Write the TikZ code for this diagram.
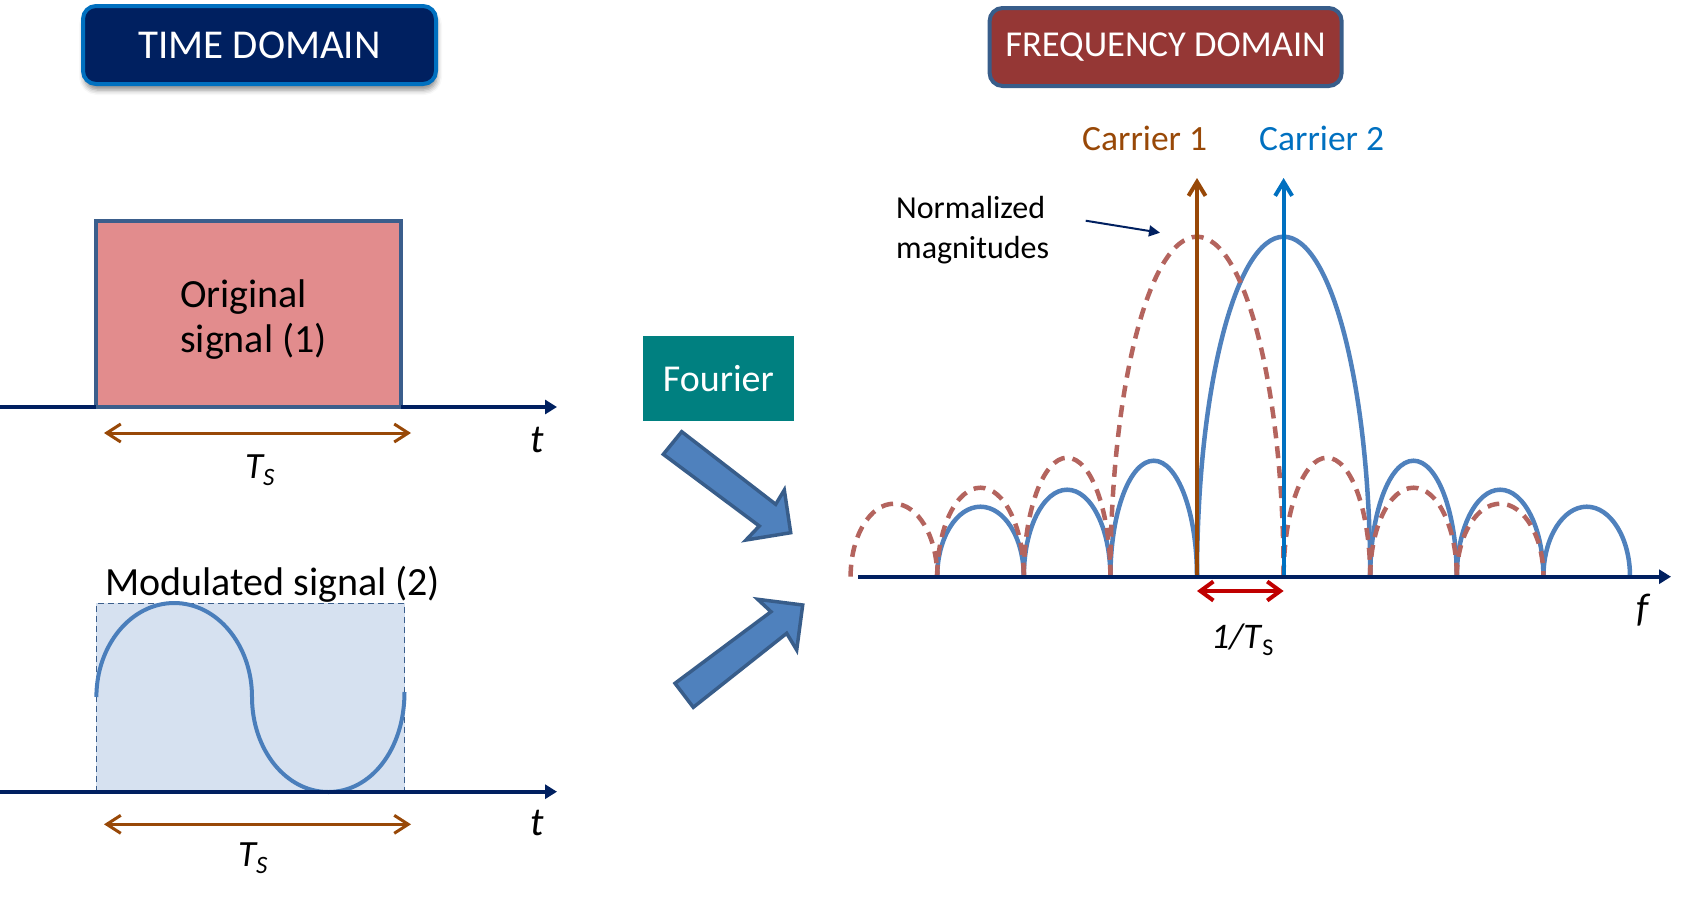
\documentclass[tikz,border=0pt]{standalone}
\usepackage{fontspec}
\setmainfont{Carlito}
\usetikzlibrary{arrows.meta,shadows.blur}
\definecolor{navy}{HTML}{002060}
\definecolor{hdrblue}{HTML}{0070C0}
\definecolor{freqred}{HTML}{953735}
\definecolor{freqedge}{HTML}{385D8A}
\definecolor{boxedge}{HTML}{3B5E8C}
\definecolor{pinkfill}{HTML}{E28C8D}
\definecolor{lightblue}{HTML}{D6E1F0}
\definecolor{sinblue}{HTML}{4A7EBB}
\definecolor{lobeblue}{HTML}{4F81BD}
\definecolor{dashred}{HTML}{B4645E}
\definecolor{carbrown}{HTML}{984807}
\definecolor{carblue}{HTML}{0070C0}
\definecolor{arrred}{HTML}{C00000}
\definecolor{fourteal}{HTML}{008080}
\definecolor{blkfill}{HTML}{4F81BD}
\definecolor{blkedge}{HTML}{385D8A}
% half ellipse arch: centre x, base y, half width, height (upwards)
\newcommand\halfarch[4]{(#1-#3,#2) .. controls (#1-#3,#2-0.5523*#4) and (#1-0.5523*#3,#2-#4) .. (#1,#2-#4) .. controls (#1+0.5523*#3,#2-#4) and (#1+#3,#2-0.5523*#4) .. (#1+#3,#2)}
\tikzset{
  hdr/.style={rounded corners=13pt, line width=4pt, inner sep=0pt, text=white},
  axisline/.style={draw=navy, line width=4pt, -{Triangle[length=12pt,width=14pt]}},
  tsarrow/.style={draw=carbrown, line width=3pt, {Straight Barb[length=14pt,width=18pt]}-{Straight Barb[length=14pt,width=18pt]}},
  blockarrow/.style={fill=blkfill, draw=blkedge, line width=3.5pt, line join=miter},
  lobeB/.style={draw=lobeblue, line width=4.5pt},
  lobeR/.style={draw=dashred, line width=4.5pt, dash pattern=on 12pt off 8pt},
  carrier/.style={line width=4pt, -{Straight Barb[length=14pt,width=17pt]}},
  lbl/.style={inner sep=0pt, anchor=base west},
}
\begin{document}
\begin{tikzpicture}[x=1pt,y=-1pt]
\useasboundingbox (0,0) rectangle (1685,900);

% ---------- headers ----------
\node[hdr, fill=navy, draw=hdrblue, minimum width=353pt, minimum height=78pt,
      blur shadow={shadow xshift=1pt, shadow yshift=-6pt, shadow blur radius=5pt, shadow opacity=45}]
      (timedom) at (259.5,45) {\fontsize{41}{49}\selectfont TIME DOMAIN};
\node[hdr, fill=freqred, draw=freqedge, minimum width=352pt, minimum height=78pt]
      (freqdom) at (1165.6,47) {\fontsize{36.5}{42}\selectfont FREQUENCY DOMAIN};

% ---------- original signal ----------
\fill[pinkfill] (96,220.7) rectangle (401,407);
\draw[boxedge, line width=4pt] (96,407) -- (96,220.7) -- (401,220.7) -- (401,407);
\coordinate (ax1s) at (0,407);
\coordinate (ax1e) at (557,407);
\draw[axisline] (ax1s) -- (ax1e);
\draw[boxedge, line width=4pt] (96,407) -- (401,407);
\node[lbl, align=left, font=\fontsize{40}{45}\selectfont] (origtxt) at (180,352) {Original\\signal (1)};
\coordinate (ts1a) at (104,433);
\coordinate (ts1b) at (411,433);
\draw[tsarrow] (ts1a) -- (ts1b);
\node[lbl, font=\fontsize{37}{40}\selectfont\itshape] (ts1) at (245,478) {T\raisebox{-7pt}{\fontsize{25}{25}\selectfont S}};
\node[lbl, font=\fontsize{40}{44}\selectfont\itshape] (t1) at (530,452) {t};

% ---------- modulated signal ----------
\node[lbl, font=\fontsize{40}{44}\selectfont] (modtxt) at (105,595) {Modulated signal (2)};
\fill[lightblue] (96.4,603.3) rectangle (404.5,791.7);
\draw[boxedge, line width=1.5pt, dash pattern=on 6pt off 4pt] (96.4,791.7) -- (96.4,603.3) -- (404.5,603.3) -- (404.5,791.7);
\draw[sinblue, line width=4pt] \halfarch{174.2}{697}{77.8}{94}
   .. controls (252,697+52.5) and (328.3-42.5,792) .. (328.3,792)
   .. controls (328.3+42.5,792) and (404.5,697+52.5) .. (404.5,692);
\coordinate (ax2s) at (0,791.7);
\coordinate (ax2e) at (557,791.7);
\draw[axisline] (ax2s) -- (ax2e);
\coordinate (ts2a) at (104,824.3);
\coordinate (ts2b) at (411,824.3);
\draw[tsarrow] (ts2a) -- (ts2b);
\node[lbl, font=\fontsize{37}{40}\selectfont\itshape] (ts2) at (238,866.7) {T\raisebox{-7pt}{\fontsize{25}{25}\selectfont S}};
\node[lbl, font=\fontsize{40}{44}\selectfont\itshape] (t2) at (530,835) {t};

% ---------- Fourier ----------
\node[fill=fourteal, text=white, minimum width=151.3pt, minimum height=84.7pt, inner sep=0pt]
   (fourier) at (718.35,378.35) {\fontsize{38}{44}\selectfont Fourier};
\draw[blockarrow] (663.3,454.3) -- (681.7,431.7) -- (775.7,504.3) -- (784.3,490) -- (790.7,532.7) -- (746,540) -- (759.3,526) -- cycle;
\draw[blockarrow] (675,683.3) -- (771,611.7) -- (757.7,599.3) -- (802.7,605) -- (796.7,650) -- (786.7,633.3) -- (693.3,707.3) -- cycle;

% ---------- spectrum ----------
% carrier 2 (blue, solid)
\draw[lobeB] \halfarch{1283.6}{576.7}{86.6}{340};
\draw[lobeB] \halfarch{1153.7}{576.7}{43.3}{116};
\draw[lobeB] \halfarch{1067.1}{576.7}{43.3}{87};
\draw[lobeB] \halfarch{980.5}{576.7}{43.3}{70};
\draw[lobeB] \halfarch{1413.5}{576.7}{43.3}{116};
\draw[lobeB] \halfarch{1500.1}{576.7}{43.3}{87};
\draw[lobeB] \halfarch{1586.7}{576.7}{43.3}{70};
% carrier 1 (red, dashed)
\draw[lobeR] \halfarch{1197}{576.7}{86.6}{340};
\draw[lobeR] \halfarch{1067.1}{576.7}{43.3}{119};
\draw[lobeR] \halfarch{980.5}{576.7}{43.3}{89};
\draw[lobeR] \halfarch{893.9}{576.7}{43.3}{73};
\draw[lobeR] \halfarch{1326.9}{576.7}{43.3}{119};
\draw[lobeR] \halfarch{1413.5}{576.7}{43.3}{89};
\draw[lobeR] \halfarch{1500.1}{576.7}{43.3}{73};
% carriers
\coordinate (c1b) at (1197,576.7);
\coordinate (c1t) at (1197,178);
\coordinate (c2b) at (1283.6,576.7);
\coordinate (c2t) at (1283.6,178);
\draw[carrier, draw=carbrown] (c1b) -- (c1t);
\draw[carrier, draw=carblue] (c2b) -- (c2t);
% frequency axis
\coordinate (fax1) at (858,576.7);
\coordinate (fax2) at (1671,576.7);
\draw[axisline] (fax1) -- (fax2);
% 1/Ts
\coordinate (sp1) at (1197,591);
\coordinate (sp2) at (1283.6,591);
\draw[draw=arrred, line width=4pt, {Straight Barb[length=13pt,width=19pt]}-{Straight Barb[length=13pt,width=19pt]}] (sp1) -- (sp2);
\node[lbl, font=\fontsize{36}{40}\selectfont] (invts) at (1211,648.3) {\textit{1/T}\raisebox{-7pt}{\fontsize{24}{24}\selectfont S}};
\node[lbl, font=\fontsize{40}{44}\selectfont\itshape] (flab) at (1636,621) {f};
% labels
\node[lbl, text=carbrown, font=\fontsize{35.5}{40}\selectfont] (car1) at (1082,150) {Carrier 1};
\node[lbl, text=carblue, font=\fontsize{35.5}{40}\selectfont] (car2) at (1259,150) {Carrier 2};
\node[lbl, align=left, font=\fontsize{32}{40}\selectfont] (normtxt) at (896,258) {Normalized\\magnitudes};
\coordinate (na) at (1085.7,220.7);
\coordinate (nb) at (1160,232.7);
\draw[navy, line width=2pt, -{Triangle[length=11pt,width=11pt]}] (na) -- (nb);
\end{tikzpicture}
\end{document}
